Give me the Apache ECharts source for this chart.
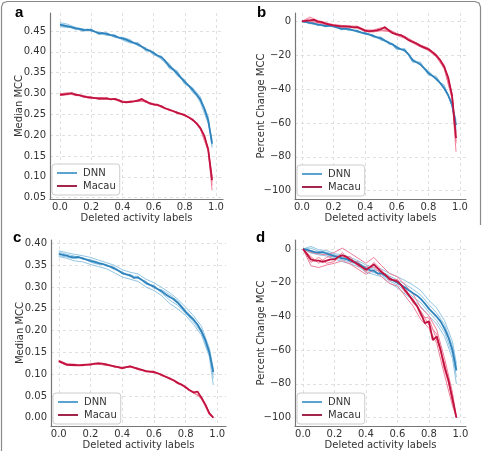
<!DOCTYPE html>
<html>
<head>
<meta charset="utf-8">
<script src="https://cdn.jsdelivr.net/npm/echarts@6/dist/echarts.min.js"></script>
<style>
  html, body { margin: 0; padding: 0; background: #fff; }
  #chart { width: 485px; height: 451px; }
</style>
</head>
<body>
<div id="chart"></div>
<script>
// x positions (fraction of deleted activity labels)
const xMain = [0, 0.025, 0.05, 0.075, 0.1, 0.125, 0.15, 0.175, 0.2, 0.225,
    0.25, 0.275, 0.3, 0.325, 0.35, 0.375, 0.4, 0.425, 0.45, 0.475,
    0.5, 0.525, 0.55, 0.575, 0.6, 0.625, 0.65, 0.675, 0.7, 0.725,
    0.75, 0.775, 0.8, 0.825, 0.85, 0.875, 0.9, 0.925, 0.95, 0.975];
const xRuns = [0, 0.05, 0.1, 0.15, 0.2, 0.25, 0.3, 0.35, 0.4, 0.45,
    0.5, 0.55, 0.6, 0.65, 0.7, 0.75, 0.8, 0.85, 0.9, 0.95, 0.975];

const xTicks = [0, 0.2, 0.4, 0.6, 0.8, 1.0];
const yTicksA = [0.05, 0.10, 0.15, 0.20, 0.25, 0.30, 0.35, 0.40, 0.45];
const yTicksC = [0, 0.05, 0.10, 0.15, 0.20, 0.25, 0.30, 0.35, 0.40];
const yTicksPct = [-100, -80, -60, -40, -20, 0];

// panel a - median MCC
const aDnn = [0.465, 0.463, 0.461, 0.459, 0.456, 0.455, 0.452, 0.453, 0.452, 0.448,
    0.444, 0.445, 0.443, 0.440, 0.438, 0.434, 0.432, 0.429, 0.425, 0.421,
    0.418, 0.412, 0.406, 0.403, 0.397, 0.391, 0.387, 0.378, 0.366, 0.358,
    0.349, 0.338, 0.328, 0.319, 0.309, 0.298, 0.285, 0.264, 0.236, 0.180];
const aMacau = [0.297, 0.298, 0.299, 0.301, 0.297, 0.296, 0.293, 0.291, 0.290, 0.289,
    0.288, 0.288, 0.288, 0.286, 0.287, 0.284, 0.280, 0.279, 0.280, 0.281,
    0.283, 0.287, 0.281, 0.276, 0.274, 0.273, 0.269, 0.264, 0.261, 0.258,
    0.254, 0.251, 0.248, 0.243, 0.237, 0.229, 0.217, 0.199, 0.166, 0.092];
const aDnnRuns = [
    [0.470, 0.466, 0.458, 0.455, 0.449, 0.447, 0.440, 0.441, 0.428, 0.421, 0.420, 0.402, 0.400, 0.381, 0.370, 0.345, 0.333, 0.302, 0.290, 0.245, 0.170],
    [0.462, 0.458, 0.459, 0.450, 0.455, 0.441, 0.446, 0.435, 0.435, 0.429, 0.414, 0.410, 0.392, 0.390, 0.360, 0.352, 0.322, 0.312, 0.278, 0.228, 0.190],
    [0.467, 0.463, 0.453, 0.454, 0.450, 0.446, 0.439, 0.440, 0.430, 0.423, 0.422, 0.404, 0.399, 0.385, 0.372, 0.343, 0.331, 0.306, 0.282, 0.240, 0.176],
    [0.460, 0.459, 0.455, 0.449, 0.454, 0.443, 0.445, 0.434, 0.434, 0.427, 0.416, 0.408, 0.394, 0.383, 0.363, 0.355, 0.325, 0.314, 0.292, 0.232, 0.185]
];
const aMacauRuns = [
    [0.299, 0.302, 0.296, 0.295, 0.289, 0.289, 0.286, 0.288, 0.281, 0.278, 0.285, 0.279, 0.275, 0.267, 0.262, 0.252, 0.249, 0.235, 0.219, 0.170, 0.080],
    [0.295, 0.297, 0.299, 0.291, 0.291, 0.287, 0.289, 0.285, 0.279, 0.282, 0.281, 0.283, 0.272, 0.270, 0.259, 0.256, 0.246, 0.239, 0.214, 0.162, 0.068],
    [0.298, 0.300, 0.295, 0.294, 0.292, 0.286, 0.287, 0.288, 0.282, 0.279, 0.284, 0.280, 0.276, 0.268, 0.263, 0.253, 0.250, 0.236, 0.218, 0.168, 0.100],
    [0.296, 0.298, 0.298, 0.292, 0.288, 0.290, 0.289, 0.286, 0.278, 0.281, 0.282, 0.282, 0.273, 0.271, 0.260, 0.255, 0.247, 0.238, 0.216, 0.164, 0.088]
];

// panel b - percent change MCC
const bDnn = [0, -0.4, -0.9, -1.3, -1.9, -2.2, -2.8, -2.6, -2.8, -3.7,
    -4.5, -4.3, -4.7, -5.4, -5.8, -6.7, -7.1, -7.7, -8.6, -9.5,
    -10.1, -11.4, -12.7, -13.6, -15.5, -16.5, -17.2, -19.5, -23.0, -24.2,
    -25.5, -28.0, -30.5, -32.2, -34.0, -36.5, -39.5, -43.5, -49.2, -61.3];
const bMacau = [0, 0.3, 0.5, 0.9, -0.2, -0.5, -1.4, -2.0, -2.4, -2.7,
    -3.0, -3.0, -3.1, -3.6, -3.4, -4.4, -5.5, -6.0, -5.7, -5.4,
    -4.7, -3.4, -5.4, -7.0, -7.7, -8.1, -9.4, -11.1, -12.1, -13.1,
    -14.5, -15.5, -16.5, -18.2, -20.2, -22.9, -26.9, -33.0, -44.1, -69.0];
const bDnnRuns = [
    [0, -0.5, -2.5, -2.2, -3.5, -4.0, -5.5, -5.2, -7.9, -8.0, -11.2, -12.0, -16.8, -16.0, -24.2, -24.0, -31.8, -32.5, -40.1, -48.0, -63.0],
    [0, -1.4, -1.5, -3.3, -2.2, -5.1, -4.1, -6.5, -6.4, -9.3, -9.2, -13.5, -14.6, -17.9, -22.0, -26.0, -29.2, -34.8, -37.5, -50.5, -59.0],
    [0, -0.7, -2.2, -2.6, -3.1, -4.3, -5.1, -5.5, -7.6, -8.2, -10.8, -12.3, -16.2, -16.4, -23.8, -24.5, -31.2, -33.0, -39.5, -48.6, -64.5],
    [0, -1.2, -1.7, -3.0, -2.5, -4.8, -4.3, -6.2, -6.7, -9.0, -9.6, -13.1, -15.0, -17.4, -22.4, -25.5, -29.8, -34.2, -38.0, -50.0, -58.0]
];
const bMacauRuns = [
    [0, 2.5, 0.5, -0.8, -2.0, -2.4, -2.8, -2.9, -5.0, -5.2, -3.8, -4.9, -7.2, -8.9, -11.5, -14.0, -15.8, -19.5, -25.8, -42.5, -72.0],
    [0, -0.8, -0.9, -2.0, -2.9, -3.6, -3.5, -4.0, -6.1, -6.3, -5.6, -6.0, -8.3, -10.0, -12.8, -15.1, -17.2, -21.0, -28.0, -45.8, -77.0],
    [0, 1.4, 0.2, -1.0, -2.1, -2.7, -3.4, -3.1, -5.2, -5.9, -4.2, -5.1, -7.4, -9.0, -11.7, -14.2, -16.0, -19.8, -26.2, -43.2, -66.0],
    [0, 0.0, -0.6, -1.8, -2.7, -3.3, -2.8, -3.7, -5.8, -5.5, -5.2, -5.7, -8.0, -9.8, -12.5, -14.8, -17.0, -20.7, -27.5, -45.0, -71.0]
];

// panel c - median MCC
const cDnn = [0.376, 0.374, 0.372, 0.369, 0.368, 0.369, 0.366, 0.363, 0.360, 0.358,
    0.355, 0.353, 0.350, 0.347, 0.343, 0.338, 0.332, 0.329, 0.327, 0.321,
    0.322, 0.316, 0.310, 0.305, 0.301, 0.295, 0.290, 0.283, 0.277, 0.272,
    0.264, 0.254, 0.243, 0.234, 0.225, 0.214, 0.198, 0.178, 0.150, 0.105];
const cMacau = [0.130, 0.126, 0.122, 0.121, 0.121, 0.120, 0.121, 0.122, 0.122, 0.124,
    0.125, 0.124, 0.122, 0.120, 0.118, 0.116, 0.114, 0.116, 0.118, 0.115,
    0.112, 0.110, 0.107, 0.106, 0.105, 0.102, 0.098, 0.094, 0.090, 0.086,
    0.080, 0.076, 0.070, 0.063, 0.058, 0.060, 0.046, 0.030, 0.010, 0.000];
const cDnnRuns = [
    [0.383, 0.379, 0.375, 0.372, 0.368, 0.362, 0.356, 0.350, 0.340, 0.334, 0.330, 0.318, 0.310, 0.299, 0.287, 0.272, 0.254, 0.234, 0.210, 0.160, 0.112],
    [0.370, 0.366, 0.360, 0.358, 0.352, 0.347, 0.342, 0.333, 0.323, 0.318, 0.313, 0.300, 0.292, 0.280, 0.262, 0.250, 0.235, 0.214, 0.190, 0.140, 0.075],
    [0.380, 0.375, 0.371, 0.364, 0.363, 0.357, 0.348, 0.346, 0.330, 0.329, 0.320, 0.313, 0.297, 0.294, 0.282, 0.268, 0.247, 0.228, 0.202, 0.155, 0.100],
    [0.372, 0.369, 0.365, 0.368, 0.357, 0.352, 0.352, 0.340, 0.335, 0.324, 0.325, 0.306, 0.304, 0.286, 0.270, 0.258, 0.240, 0.220, 0.195, 0.145, 0.090]
];
const cMacauRuns = [
    [0.132, 0.124, 0.123, 0.120, 0.124, 0.124, 0.124, 0.117, 0.116, 0.117, 0.114, 0.106, 0.107, 0.097, 0.092, 0.079, 0.072, 0.056, 0.048, 0.013, 0.000],
    [0.128, 0.121, 0.119, 0.122, 0.121, 0.126, 0.121, 0.119, 0.113, 0.119, 0.110, 0.108, 0.104, 0.099, 0.088, 0.082, 0.068, 0.060, 0.043, 0.008, 0.000],
    [0.131, 0.123, 0.122, 0.119, 0.123, 0.125, 0.123, 0.116, 0.115, 0.116, 0.113, 0.105, 0.106, 0.096, 0.091, 0.078, 0.071, 0.057, 0.047, 0.012, 0.000],
    [0.129, 0.120, 0.120, 0.121, 0.122, 0.123, 0.120, 0.118, 0.112, 0.118, 0.111, 0.107, 0.103, 0.100, 0.089, 0.081, 0.069, 0.059, 0.045, 0.007, 0.000]
];

// panel d - percent change MCC
const dDnn = [0, -0.5, -1.1, -1.9, -2.1, -1.9, -2.7, -3.5, -4.3, -4.8,
    -5.6, -6.1, -6.9, -7.7, -8.8, -10.1, -11.7, -12.5, -13.0, -14.6,
    -14.4, -16.0, -17.6, -18.9, -20.0, -21.5, -22.9, -24.7, -26.3, -27.7,
    -29.8, -32.4, -35.4, -37.8, -40.2, -43.1, -47.3, -52.7, -60.1, -72.1];
const dMacau = [0, -3.1, -6.2, -6.9, -6.9, -7.7, -6.9, -6.2, -6.2, -4.6,
    -3.8, -4.6, -6.2, -7.7, -9.2, -10.8, -12.3, -10.8, -9.2, -11.5,
    -13.8, -15.4, -17.7, -18.5, -19.2, -21.5, -24.6, -27.7, -30.8, -33.8,
    -38.5, -44.0, -43.0, -54.0, -52.0, -60.0, -70.0, -78.0, -89.0, -100];
const dDnnRuns = [
    [0, 1.5, -0.5, -1.0, -2.8, -3.5, -5.0, -7.0, -9.5, -10.8, -12.0, -14.5, -16.5, -18.8, -21.5, -24.8, -30.5, -35.0, -42.5, -55.0, -68.0],
    [0, -2.5, -3.5, -4.2, -6.0, -7.5, -8.8, -10.5, -13.8, -15.2, -16.5, -20.2, -23.0, -26.8, -30.5, -34.2, -39.8, -44.5, -52.0, -65.0, -80.0],
    [0, 0.5, -1.5, -2.0, -3.5, -4.8, -6.0, -8.0, -10.8, -12.0, -13.5, -16.0, -18.5, -21.0, -24.0, -27.5, -33.0, -38.0, -45.0, -57.5, -70.0],
    [0, -1.8, -2.8, -3.5, -5.2, -6.5, -7.8, -9.6, -12.6, -14.0, -15.5, -19.0, -21.5, -24.8, -28.5, -32.0, -37.5, -42.5, -49.5, -62.5, -76.0]
];
const dMacauRuns = [
    [0, -10.0, -11.0, -9.5, -8.5, -7.0, -9.0, -12.0, -15.0, -12.5, -16.5, -20.5, -22.0, -28.0, -34.0, -42.0, -47.0, -56.0, -75.0, -93.0, -100],
    [0, -2.0, -3.0, -3.5, -2.0, 0.5, -2.5, -5.5, -8.5, -5.0, -10.0, -14.5, -16.5, -21.5, -27.0, -35.0, -39.5, -48.0, -65.0, -85.0, -100],
    [0, -8.0, -5.0, -8.5, -7.5, -2.0, -8.0, -7.5, -14.0, -8.0, -12.5, -19.0, -18.0, -26.0, -29.5, -40.0, -41.0, -54.0, -68.0, -91.0, -100],
    [0, -4.5, -8.5, -5.0, -4.0, -5.5, -4.5, -10.5, -10.5, -11.0, -15.0, -16.5, -20.5, -23.0, -32.0, -37.0, -45.0, -50.5, -72.0, -87.0, -100]
];

const FONT = 'DejaVu Sans';
const DNN_COLOR = '#2f83bd';
const DNN_LIGHT = '#93c6e4';
const MACAU_COLOR = '#c2123f';
const MACAU_LIGHT = '#ef7f9a';

const chart = echarts.init(document.getElementById('chart'));

function pairs(xs, ys) {
    return xs.map((x, i) => [x, ys[i]]);
}

function fmtY(digits) {
    return function (v) {
        if (digits === 0) {
            return v < 0 ? '\u2212' + Math.abs(v) : String(v);
        }
        return v.toFixed(digits);
    };
}

// one panel: grid + axes
const panels = [
    {grid: {left: 50, top: 13, width: 173, height: 186}, x: [-0.064, 1.045], y: [0.047, 0.493], ticks: yTicksA, digits: 2, name: 'Median MCC', gap: 26},
    {grid: {left: 295, top: 13, width: 171, height: 186}, x: [-0.044, 1.038], y: [-104.9, 4.9], ticks: yTicksPct, digits: 0, name: 'Percent Change MCC', gap: 29},
    {grid: {left: 51, top: 240, width: 175, height: 187}, x: [-0.049, 1.055], y: [-0.019, 0.408], ticks: yTicksC, digits: 2, name: 'Median MCC', gap: 26},
    {grid: {left: 295, top: 240, width: 171, height: 187}, x: [-0.051, 1.036], y: [-105, 5.3], ticks: yTicksPct, digits: 0, name: 'Percent Change MCC', gap: 29}
];

const grids = [];
const xAxes = [];
const yAxes = [];
panels.forEach((p, i) => {
    grids.push(Object.assign({containLabel: false}, p.grid));
    xAxes.push({
        type: 'value', gridIndex: i, min: p.x[0], max: p.x[1],
        name: 'Deleted activity labels', nameLocation: 'middle', nameGap: 14,
        nameMoveOverlap: false,
        nameTextStyle: {fontFamily: FONT, fontSize: 10, color: '#333'},
        axisLine: {show: true, onZero: false, lineStyle: {color: '#777', width: 1.2}},
        axisTick: {show: false, customValues: xTicks},
        axisLabel: {customValues: xTicks, formatter: v => v.toFixed(1), margin: 3,
            fontFamily: FONT, fontSize: 10, color: '#333'},
        splitLine: {show: true, lineStyle: {color: '#d8d8d8', type: [3, 3], width: 0.8}}
    });
    yAxes.push({
        type: 'value', gridIndex: i, min: p.y[0], max: p.y[1],
        name: p.name, nameLocation: 'middle', nameGap: p.gap, nameRotate: 90,
        nameMoveOverlap: false,
        nameTextStyle: {fontFamily: FONT, fontSize: 10, color: '#333'},
        axisLine: {show: true, onZero: false, lineStyle: {color: '#777', width: 1.2}},
        axisTick: {show: false, customValues: p.ticks},
        axisLabel: {customValues: p.ticks, formatter: fmtY(p.digits), margin: 4,
            fontFamily: FONT, fontSize: 10, color: '#333'},
        splitLine: {show: true, lineStyle: {color: '#d8d8d8', type: [3, 3], width: 0.8}}
    });
});

const series = [];
function addLine(name, xs, ys, idx, color, width, opacity, z) {
    series.push({
        name: name, type: 'line', xAxisIndex: idx, yAxisIndex: idx,
        data: pairs(xs, ys), symbol: 'none', silent: true, z: z,
        lineStyle: {color: color, width: width, opacity: opacity},
        itemStyle: {color: color}
    });
}

const groups = [
    [aDnn, aMacau, aDnnRuns, aMacauRuns],
    [bDnn, bMacau, bDnnRuns, bMacauRuns],
    [cDnn, cMacau, cDnnRuns, cMacauRuns],
    [dDnn, dMacau, dDnnRuns, dMacauRuns]
];
groups.forEach((g, i) => {
    g[2].forEach(r => addLine('DNN run', xRuns, r, i, DNN_LIGHT, 1, 1, 2));
    g[3].forEach(r => addLine('Macau run', xRuns, r, i, MACAU_LIGHT, 1, 1, 2));
    addLine('DNN', xMain, g[0], i, DNN_COLOR, 1.8, 1, 4);
    addLine('Macau', xMain, g[1], i, MACAU_COLOR, 1.8, 1, 5);
});

// legend boxes, one per panel
const legendPos = [[52, 164], [297, 165], [53, 393], [297, 393]];
const legends = legendPos.map(pos => ({
    orient: 'vertical', left: pos[0], top: pos[1],
    selectedMode: false,
    backgroundColor: '#fff', borderColor: '#ccc', borderWidth: 1, borderRadius: 3,
    padding: [4, 4, 4, 5], itemGap: 3, itemWidth: 20, itemHeight: 2,
    textStyle: {fontFamily: FONT, fontSize: 10, color: '#333', padding: [0, 0, 0, 1]},
    data: [
        {name: 'DNN', icon: 'rect', itemStyle: {color: '#5ba3d0'}},
        {name: 'Macau', icon: 'rect', itemStyle: {color: '#a3254b'}}
    ]
}));

const letters = [['a', 15, 5], ['b', 257, 5], ['c', 13, 230], ['d', 256, 230]];

chart.setOption({
    backgroundColor: '#fff',
    animation: false,
    grid: grids,
    xAxis: xAxes,
    yAxis: yAxes,
    legend: legends,
    series: series,
    graphic: letters.map(l => ({
        type: 'text', left: l[1], top: l[2],
        style: {text: l[0], font: 'bold 15px "Liberation Sans", Arial, sans-serif', fill: '#000'}
    })).concat([{
        // figure frame (left, top and upper right edges)
        type: 'polyline', silent: true,
        shape: {points: [[1.5, 451], [1.5, 7], [3, 3], [7, 1.5], [475, 1.5], [479, 3], [480.5, 7], [480.5, 225]]},
        style: {stroke: '#8a8a8a', lineWidth: 1.2, fill: null}
    }])
});
</script>
</body>
</html>
